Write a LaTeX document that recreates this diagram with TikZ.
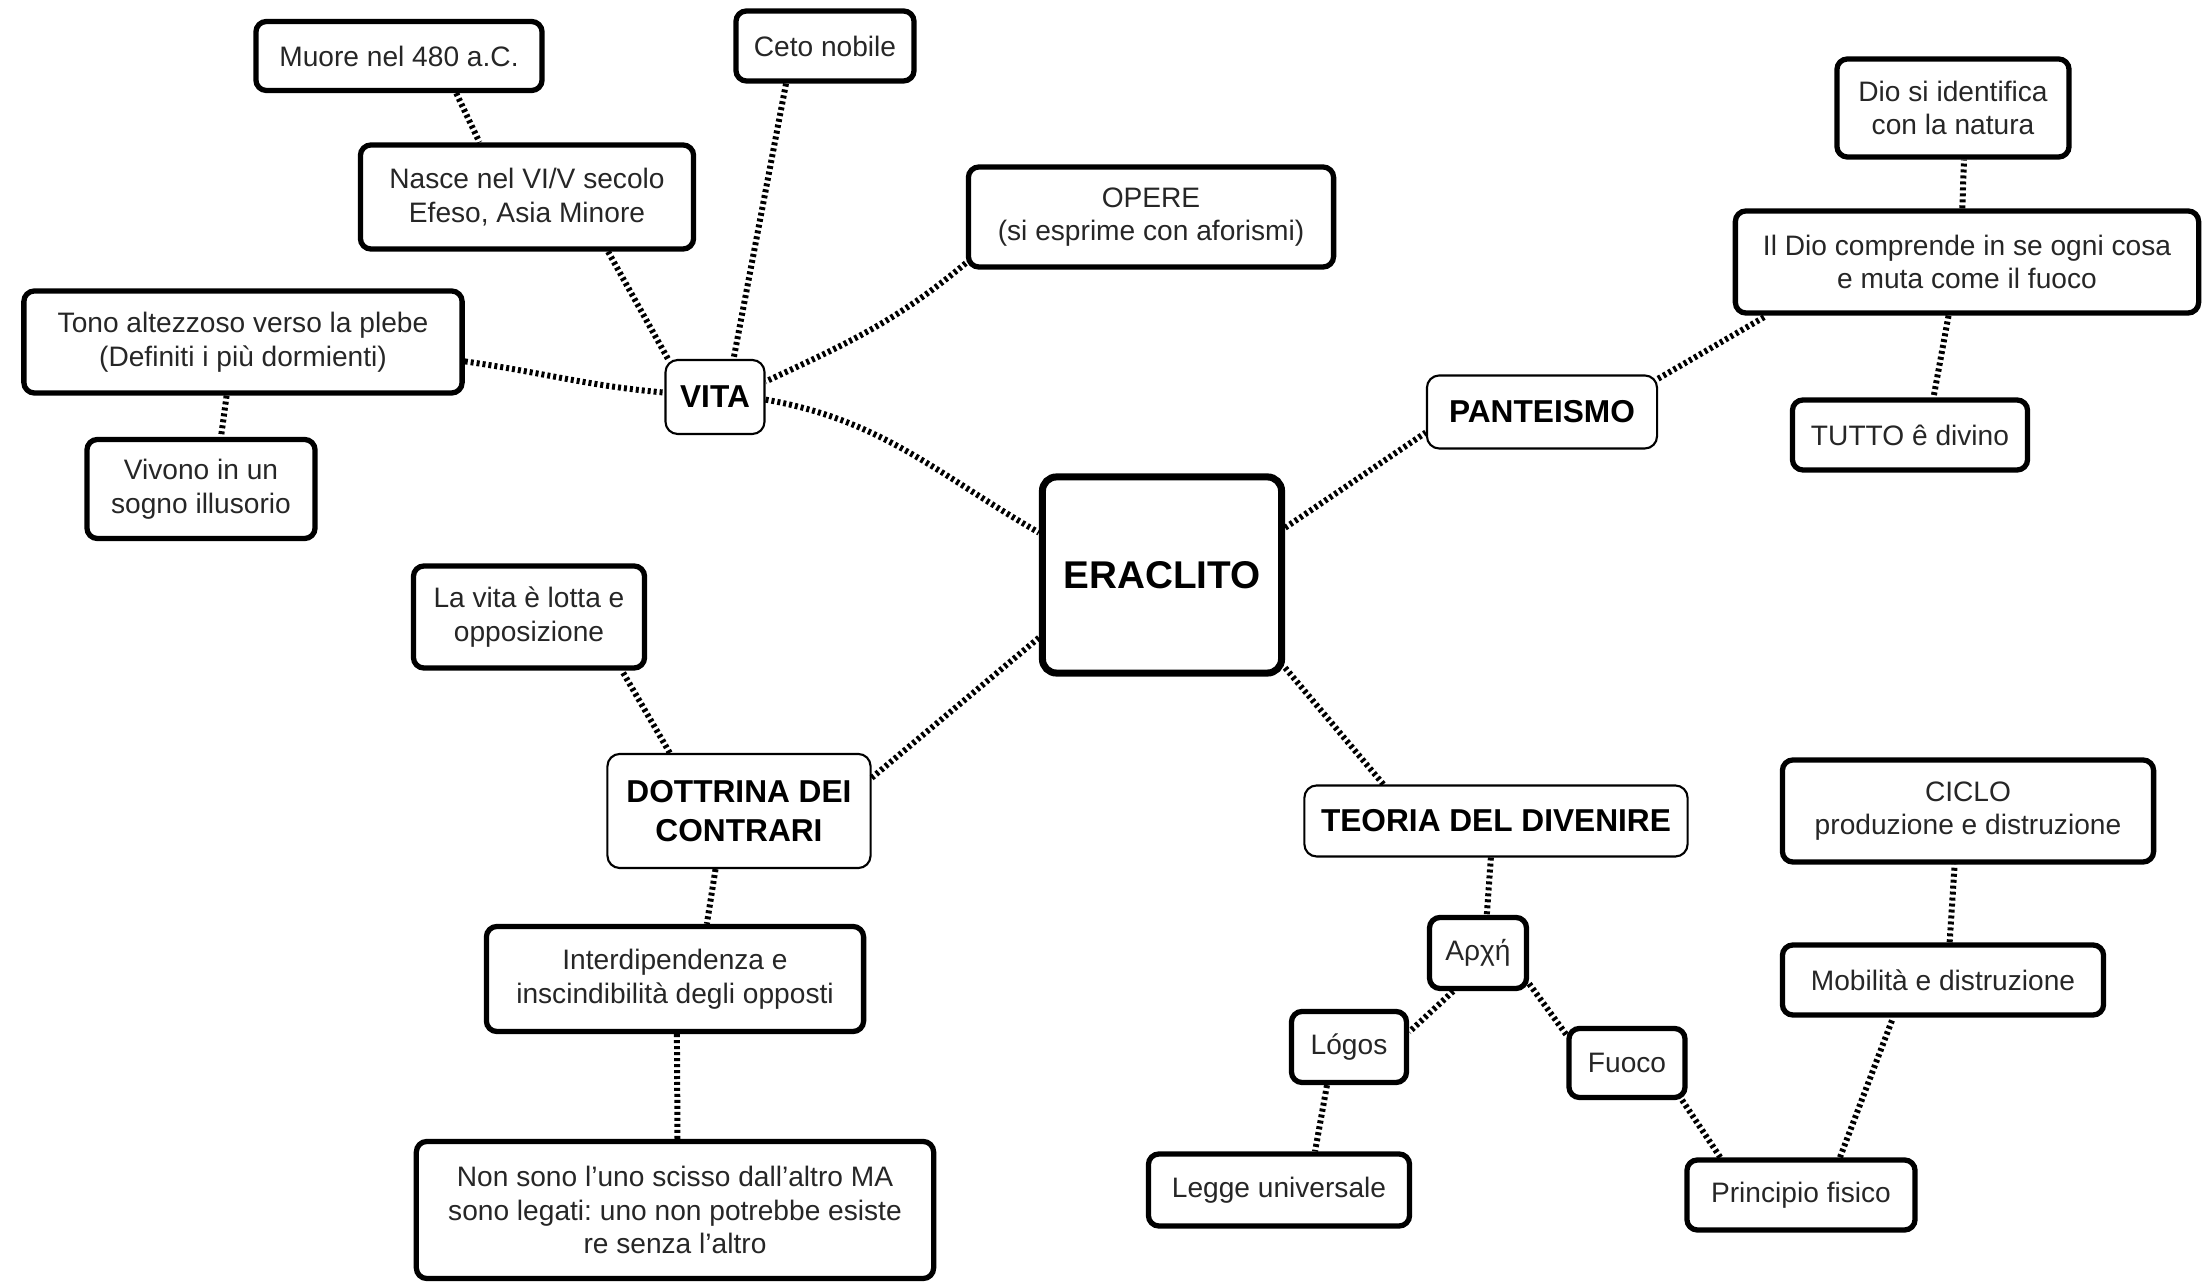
\documentclass[tikz,border=0pt]{standalone}
\usepackage{fontspec}
\setmainfont{Liberation Sans}
\frenchspacing
\usetikzlibrary{positioning}

\begin{document}
\begin{tikzpicture}[
x=0.01cm,y=-0.01cm,
leaf/.style={
	draw,
	rounded corners=3pt,
	line width=1.5pt,
	align=center,
	inner sep=2pt,
	text=black!85,
	font=\fontsize{8}{9.6}\selectfont
},
topic/.style={
	draw,
	rounded corners=3.5pt,
	line width=0.6pt,
	align=center,
	inner sep=2pt,
	font=\fontsize{9}{11}\selectfont\bfseries
},
root/.style={
	draw,
	rounded corners=4pt,
	line width=2pt,
	font=\fontsize{11}{13}\selectfont\bfseries
},
link/.style={
	line width=1.7pt,
	dash pattern=on 0.85pt off 0.85pt
}
]
\useasboundingbox (0,0) rectangle (2202,1283);

% centre
\node[root,minimum width=2.39cm,minimum height=1.96cm] (eraclito) at (1162,575) {ERACLITO};

% main branches
\node[topic,minimum width=0.99cm,minimum height=0.74cm] (vita) at (715,397) {VITA};
\node[topic,minimum width=2.30cm,minimum height=0.73cm] (pant) at (1542,412) {PANTEISMO};
\node[topic,minimum width=2.63cm,minimum height=1.14cm] (dottrina) at (739,811) {DOTTRINA DEI\\CONTRARI};
\node[topic,minimum width=3.83cm,minimum height=0.71cm] (teoria) at (1496,821) {TEORIA DEL DIVENIRE};

% vita
\node[leaf,minimum width=2.86cm,minimum height=0.69cm] (muore) at (399,56) {Muore nel 480 a.C.};
\node[leaf,minimum width=1.78cm,minimum height=0.70cm] (ceto) at (825,46) {Ceto nobile};
\node[leaf,minimum width=3.33cm,minimum height=1.04cm] (nasce) at (527,197) {Nasce nel VI/V secolo\\Efeso, Asia Minore};
\node[leaf,minimum width=3.65cm,minimum height=1.00cm] (opere) at (1151,217) {OPERE\\(si esprime con aforismi)};
\node[leaf,minimum width=4.38cm,minimum height=1.02cm] (tono) at (243,342) {Tono altezzoso verso la plebe\\(Definiti i più dormienti)};
\node[leaf,minimum width=2.28cm,minimum height=0.99cm] (vivono) at (201,489) {Vivono in un\\sogno illusorio};

% panteismo
\node[leaf,minimum width=2.32cm,minimum height=0.98cm] (dio) at (1953,108) {Dio si identifica\\con la natura};
\node[leaf,minimum width=4.63cm,minimum height=1.02cm] (ildio) at (1967,262) {Il Dio comprende in se ogni cosa\\e muta come il fuoco};
\node[leaf,minimum width=2.35cm,minimum height=0.70cm] (tutto) at (1910,435) {TUTTO ê divino};

% dottrina dei contrari
\node[leaf,minimum width=2.31cm,minimum height=1.02cm] (lotta) at (529,617) {La vita è lotta e\\opposizione};
\node[leaf,minimum width=3.77cm,minimum height=1.05cm] (interd) at (675,979) {Interdipendenza e\\inscindibilità degli opposti};
\node[leaf,minimum width=5.17cm,minimum height=1.37cm] (nonsono) at (675,1210) {Non sono l'uno scisso dall'altro MA\\sono legati: uno non potrebbe esiste\\re senza l'altro};

% teoria del divenire
\node[leaf,minimum width=0.97cm,minimum height=0.71cm] (arche) at (1478,953) {Αρχή};
\node[leaf,minimum width=1.15cm,minimum height=0.71cm] (logos) at (1349,1047) {Lógos};
\node[leaf,minimum width=1.16cm,minimum height=0.69cm] (fuoco) at (1627,1063) {Fuoco};
\node[leaf,minimum width=2.61cm,minimum height=0.72cm] (legge) at (1279,1190) {Legge universale};
\node[leaf,minimum width=2.28cm,minimum height=0.70cm] (princ) at (1801,1195) {Principio fisico};
\node[leaf,minimum width=3.21cm,minimum height=0.70cm] (mobil) at (1943,980) {Mobilità e distruzione};
\node[leaf,minimum width=3.71cm,minimum height=1.02cm] (ciclo) at (1968,811) {CICLO\\produzione e distruzione};

% curved links
\draw[link] (vita.-3) to[out=-10,in=150] (eraclito.161);
\draw[link] (opere.-166) to[out=-140,in=25] (vita.17);
\draw[link] (tono.-5) to[out=-8,in=175] (vita.175);

% straight links
\foreach \a/\b in {muore.-33/nasce.131, nasce.-34/vita.141, ceto.-136/vita.64,
	tono.-107/vivono.69, eraclito.21/pant.-170, pant.16/ildio.-165,
	ildio.95/dio.-78, ildio.-109/tutto.58, eraclito.-153/dottrina.14,
	dottrina.140/lotta.-30, dottrina.-112/interd.60, interd.-88/nonsono.88,
	eraclito.-37/teoria.162, teoria.-98/arche.77, arche.-123/logos.14,
	arche.-31/fuoco.155, logos.-120/legge.47, fuoco.-34/princ.155,
	princ.44/mobil.-143, mobil.80/ciclo.-104}
\draw[link] (\a) -- (\b);
\end{tikzpicture}
\end{document}
